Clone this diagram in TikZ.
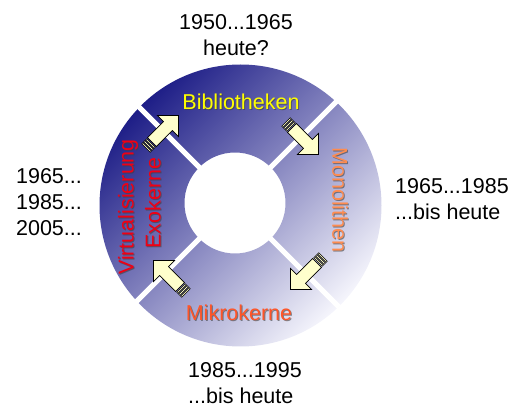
\documentclass[tikz,border=0pt]{standalone}
\usepackage{fontspec}
\setmainfont{Liberation Sans}
\definecolor{ringdark}{RGB}{30,30,135}
\definecolor{ringlight}{RGB}{245,245,252}
\definecolor{arrowfill}{RGB}{255,255,204}
\definecolor{libyellow}{RGB}{255,255,0}
\definecolor{monoorange}{RGB}{255,140,80}
\definecolor{mikroorange}{RGB}{255,85,40}
\definecolor{virtred}{RGB}{240,0,20}
\tikzset{
  yeartext/.style={font=\fontsize{21.5}{26}\selectfont, inner sep=0pt},
  ringtext/.style={font=\fontsize{21.5}{26}\selectfont, inner sep=0pt},
  shadowtext/.style={ringtext, text=black!75, opacity=0.6},
  arrowbody/.style={fill=arrowfill, draw=black, line width=0.6pt, line join=miter},
  flowarrow/.pic={
    \foreach \s in {0,2.7,5.4}
      \filldraw[arrowbody] (\s,-6) rectangle ++(1.7,12);
    \filldraw[arrowbody] (8.4,-6.3) -- (31,-6.3) -- (31,-15) -- (46,0)
      -- (31,15) -- (31,6.3) -- (8.4,6.3) -- cycle;
  }
}
\begin{document}
\begin{tikzpicture}[x=1pt,y=-1pt]
  \useasboundingbox (0,0) rectangle (515,409);
  % ring
  \shade[even odd rule, top color=ringdark, bottom color=ringlight, shading angle=45]
    (240.5,205.5) circle (141) (235,203) circle (50.5);
  \coordinate (hub) at (235,203);
  \foreach \a in {45,135,225,315}
    \draw[white, line width=5pt] (hub) -- ++(\a:147);
  % arrows
  \pic[rotate=45] at (146,148) {flowarrow};
  \pic[rotate=-45] at (286,122) {flowarrow};
  \pic[rotate=-135] at (323,257) {flowarrow};
  \pic[rotate=135] at (186,293) {flowarrow};
  % labels in the ring
  \node[shadowtext] at (242,103) {Bibliotheken};
  \node[ringtext, text=libyellow] (bib) at (241,102) {Bibliotheken};
  \node[shadowtext, rotate=-90] at (341,201) {Monolithen};
  \node[ringtext, text=monoorange, rotate=-90] (mono) at (340,200) {Monolithen};
  \node[shadowtext] at (240,314) {Mikrokerne};
  \node[ringtext, text=mikroorange] (mikro) at (239,313) {Mikrokerne};
  \node[shadowtext, rotate=90] at (129,208) {Virtualisierung};
  \node[ringtext, text=virtred, rotate=90] (virt) at (128,207) {Virtualisierung};
  \node[shadowtext, rotate=90] at (154,204) {Exokerne};
  \node[ringtext, text=virtred, rotate=90] (exo) at (153,203) {Exokerne};
  % years
  \node[yeartext, align=center] (ytop) at (236,35) {1950...1965\\heute?};
  \node[yeartext, align=center] (yleft) at (49,202) {1965...\\1985...\\2005...};
  \node[yeartext, align=left, anchor=west] (yright) at (395,199) {1965...1985\\...bis heute};
  \node[yeartext, align=left, anchor=west] (ybottom) at (188,383.5) {1985...1995\\...bis heute};
\end{tikzpicture}
\end{document}
